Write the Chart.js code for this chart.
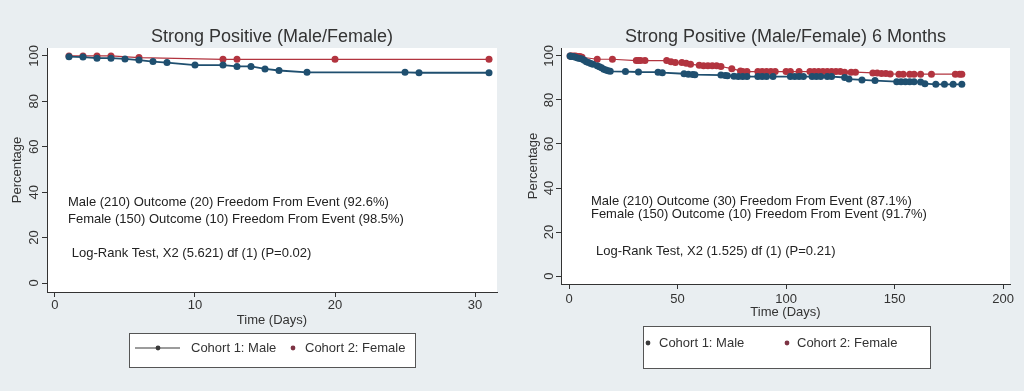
<!DOCTYPE html>
<html>
<head>
<meta charset="utf-8">
<script src="https://cdn.jsdelivr.net/npm/chart.js@4.4.1/dist/chart.umd.min.js"></script>
<style>
  html, body { margin: 0; padding: 0; background: #e9eef1; }
  #wrap { position: relative; width: 1024px; height: 391px; overflow: hidden; }
  .panel { position: absolute; top: 0; width: 512px; height: 391px; }
</style>
</head>
<body>
<div id="wrap">
  <div class="panel" style="left:0"><canvas id="days30" width="512" height="391"></canvas></div>
  <div class="panel" style="left:512px"><canvas id="months6" width="512" height="391"></canvas></div>
</div>
<script>
// ---- left panel: first 30 days ----
const shortMaleDays = [1, 2, 3, 4, 5, 6, 7, 8, 10, 12, 13, 14, 15, 16, 18, 25, 26, 31];
const shortMaleValues = [99.7, 99.5, 99.0, 99.0, 98.7, 98.2, 97.5, 97.1, 96.0, 96.0, 95.4, 95.4, 94.3, 93.6, 92.8, 92.8, 92.6, 92.6];
const shortFemaleDays = [1, 2, 3, 4, 6, 12, 13, 20, 31];
const shortFemaleValues = [100, 100, 100, 100, 99.3, 98.5, 98.5, 98.5, 98.5];
const shortXTicks = [0, 10, 20, 30];

// ---- right panel: 6 months ----
const longMaleDays = [0.5, 1, 2, 3, 4, 5, 6, 7, 8, 9, 10, 11, 13, 14, 15, 16, 17, 18, 19, 26, 32, 41, 43,
  53, 55, 57, 58, 70, 72, 73, 76, 78, 80, 82, 87, 89, 91, 94, 102, 104, 106, 108, 112, 114, 116, 119, 121,
  127, 129, 135, 141, 151, 153, 155, 157, 159, 162, 164, 169, 173, 177, 181];
const longMaleValues = [100, 99.7, 99.7, 99.4, 99.1, 98.8, 98.6, 98.0, 97.4, 97.0, 96.6, 96.2, 95.5, 95.1, 94.6, 94.0, 93.6, 93.3, 93.0, 92.9, 92.7, 92.6, 92.4,
  91.9, 91.7, 91.6, 91.5, 91.3, 91.1, 91.0, 90.8, 90.7, 90.7, 90.6, 90.6, 90.6, 90.6, 90.6, 90.6, 90.6, 90.6, 90.6, 90.6, 90.6, 90.6, 90.6, 90.6,
  90.2, 89.5, 89.1, 88.8, 88.3, 88.3, 88.3, 88.3, 88.3, 88.1, 87.4, 87.1, 87.1, 87.1, 87.1];
const longFemaleDays = [0.5, 1, 2, 3, 4, 5, 6, 13, 20, 31, 32, 33, 35, 45, 47, 49, 52, 54, 56, 60, 62, 64, 66, 68, 70,
  75, 79, 80, 82, 87, 89, 91, 93, 95, 100, 102, 106, 111, 113, 115, 117, 119, 121, 123, 125, 127, 130, 132,
  140, 142, 144, 146, 148, 152, 154, 157, 159, 162, 167, 178, 180, 181];
const longFemaleValues = [100, 100, 100, 100, 99.7, 99.7, 99.4, 98.5, 98.5, 97.9, 97.9, 97.9, 97.9, 97.9, 97.3, 97.0, 97.0, 96.7, 96.2, 95.8, 95.5, 95.5, 95.5, 95.5, 95.2,
  94.2, 93.2, 92.9, 92.9, 92.9, 92.9, 92.9, 92.9, 92.9, 92.9, 92.9, 92.9, 92.9, 92.9, 92.9, 92.9, 92.9, 92.9, 92.9, 92.9, 92.6, 92.6, 92.6,
  92.3, 92.3, 92.0, 92.0, 91.8, 91.7, 91.7, 91.7, 91.7, 91.7, 91.7, 91.7, 91.7, 91.7];
const longXTicks = [0, 50, 100, 150, 200];

const yTicks = [0, 20, 40, 60, 80, 100];
const seriesNames = ['Cohort 1: Male', 'Cohort 2: Female'];

const shortNotes = [
  'Male (210) Outcome (20) Freedom From Event (92.6%)',
  'Female (150) Outcome (10) Freedom From Event (98.5%)',
  'Log-Rank Test, X2 (5.621) df (1) (P=0.02)'
];
const longNotes = [
  'Male (210) Outcome (30) Freedom From Event (87.1%)',
  'Female (150) Outcome (10) Freedom From Event (91.7%)',
  'Log-Rank Test, X2 (1.525) df (1) (P=0.21)'
];

const FONT = "'Liberation Sans', Arial, sans-serif";
const INK = '#333333';
const MALE = '#1f4f6f';
const FEMALE = '#b2343f';

function pairs(xs, ys) {
  return xs.map((x, i) => ({x: x, y: ys[i]}));
}

// white plot region like stata's plotregion
const plotBg = {
  id: 'plotBg',
  beforeDraw(chart) {
    const a = chart.chartArea;
    const ctx = chart.ctx;
    ctx.save();
    ctx.fillStyle = '#ffffff';
    ctx.fillRect(a.left, a.top, a.right - a.left, a.bottom - a.top);
    ctx.restore();
  }
};

// text() annotations, placed in data units
const notes = {
  id: 'notes',
  afterDatasetsDraw(chart) {
    const o = chart.options.plugins.notes;
    const ctx = chart.ctx;
    const sx = chart.scales.x, sy = chart.scales.y;
    ctx.save();
    ctx.font = '13px ' + FONT;
    ctx.fillStyle = '#222222';
    ctx.textAlign = 'left';
    ctx.textBaseline = 'middle';
    o.lines.forEach((t, i) => {
      ctx.fillText(t, sx.getPixelForValue(o.at[i][0]), sy.getPixelForValue(o.at[i][1]));
    });
    ctx.restore();
  }
};

// stata style legend with a frame under the plot
const boxLegend = {
  id: 'boxLegend',
  afterDraw(chart) {
    const o = chart.options.plugins.boxLegend;
    const ctx = chart.ctx;
    ctx.save();
    ctx.fillStyle = '#ffffff';
    ctx.fillRect(o.box[0], o.box[1], o.box[2], o.box[3]);
    ctx.strokeStyle = '#555555';
    ctx.lineWidth = 1;
    ctx.strokeRect(o.box[0] + 0.5, o.box[1] + 0.5, o.box[2], o.box[3]);
    ctx.font = '13px ' + FONT;
    ctx.textBaseline = 'middle';
    ctx.textAlign = 'left';
    chart.data.datasets.forEach((ds, i) => {
      const it = o.items[i];
      if (it.line) {
        ctx.strokeStyle = it.color;
        ctx.lineWidth = 1.2;
        ctx.beginPath();
        ctx.moveTo(it.line[0], o.cy);
        ctx.lineTo(it.line[1], o.cy);
        ctx.stroke();
      }
      ctx.fillStyle = it.color;
      ctx.beginPath();
      ctx.arc(it.dot, o.cy, 2.4, 0, Math.PI * 2);
      ctx.fill();
      ctx.fillStyle = INK;
      ctx.fillText(ds.label, it.text, o.cy);
    });
    ctx.restore();
  }
};

function axisGrid() {
  return {
    display: true,
    drawOnChartArea: false,
    drawTicks: true,
    tickLength: 5,
    color: INK,
    lineWidth: 1
  };
}

function makeChart(id, cfg) {
  return new Chart(document.getElementById(id), {
    type: 'line',
    data: {
      datasets: [{
        label: seriesNames[0],
        data: cfg.male,
        borderColor: MALE,
        backgroundColor: MALE,
        borderWidth: 1.8,
        pointRadius: 3.5,
        pointBorderWidth: 0,
        tension: 0
      }, {
        label: seriesNames[1],
        data: cfg.female,
        borderColor: FEMALE,
        backgroundColor: FEMALE,
        borderWidth: 1.2,
        pointRadius: 3.5,
        pointBorderWidth: 0,
        tension: 0
      }]
    },
    options: {
      responsive: false,
      animation: false,
      layout: {padding: cfg.padding},
      scales: {
        x: {
          type: 'linear',
          min: cfg.xMin,
          max: cfg.xMax,
          afterBuildTicks: s => { s.ticks = cfg.xTicks.map(v => ({value: v})); },
          afterFit: s => { s.height = 36; },
          grid: axisGrid(),
          border: {display: true, color: INK, width: 1},
          ticks: {color: INK, font: {family: FONT, size: 13}, padding: cfg.xPad, maxRotation: 0},
          title: {display: true, text: 'Time (Days)', color: INK, font: {family: FONT, size: 13}, padding: {top: 0, bottom: 0}}
        },
        y: {
          type: 'linear',
          min: cfg.yMin,
          max: cfg.yMax,
          afterBuildTicks: s => { s.ticks = yTicks.map(v => ({value: v})); },
          afterFit: s => { s.width = cfg.yWidth; },
          grid: axisGrid(),
          border: {display: true, color: INK, width: 1},
          ticks: {color: INK, font: {family: FONT, size: 13}, padding: cfg.yPad, minRotation: 90, maxRotation: 90, crossAlign: 'center'},
          title: {display: true, text: 'Percentage', color: INK, font: {family: FONT, size: 13}, padding: {top: cfg.yTitlePad, bottom: 0}}
        }
      },
      plugins: {
        legend: {display: false},
        tooltip: {enabled: false},
        title: {
          display: true,
          text: cfg.title,
          fullSize: false,
          color: INK,
          font: {family: FONT, size: 18, weight: 'normal'},
          padding: {top: 26, bottom: 0.4}
        },
        notes: {lines: cfg.notes, at: cfg.notesAt},
        boxLegend: cfg.legend
      }
    },
    plugins: [plotBg, notes, boxLegend]
  });
}

makeChart('days30', {
  title: 'Strong Positive (Male/Female)',
  male: pairs(shortMaleDays, shortMaleValues),
  female: pairs(shortFemaleDays, shortFemaleValues),
  xMin: -0.57, xMax: 31.57, xTicks: shortXTicks,
  yMin: -3.96, yMax: 103.5,
  padding: {left: 0, right: 15, top: 0, bottom: 63},
  yWidth: 47, yPad: -3, yTitlePad: 10, xPad: 1,
  notes: shortNotes,
  notesAt: [[0.93, 35.7], [0.93, 28.2], [1.2, 13.2]],
  legend: {
    box: [129, 333, 286, 34], cy: 348,
    items: [
      {line: [135, 180], dot: 158, text: 191, color: '#3a3a3a'},
      {dot: 293, text: 305, color: '#7d3344'}
    ]
  }
});

makeChart('months6', {
  title: 'Strong Positive (Male/Female) 6 Months',
  male: pairs(longMaleDays, longMaleValues),
  female: pairs(longFemaleDays, longFemaleValues),
  xMin: -3.7, xMax: 203.2, xTicks: longXTicks,
  yMin: -3.6, yMax: 103.6,
  padding: {left: 0, right: 14, top: 0, bottom: 71},
  yWidth: 49, yPad: -4, yTitlePad: 14, xPad: 3,
  notes: longNotes,
  notesAt: [[10.1, 34.1], [10.1, 28.2], [12.4, 11.4]],
  legend: {
    box: [131, 326, 287, 42], cy: 343,
    items: [
      {dot: 136, text: 147, color: '#3a3a3a'},
      {dot: 275, text: 285, color: '#7d3344'}
    ]
  }
});
</script>
</body>
</html>
